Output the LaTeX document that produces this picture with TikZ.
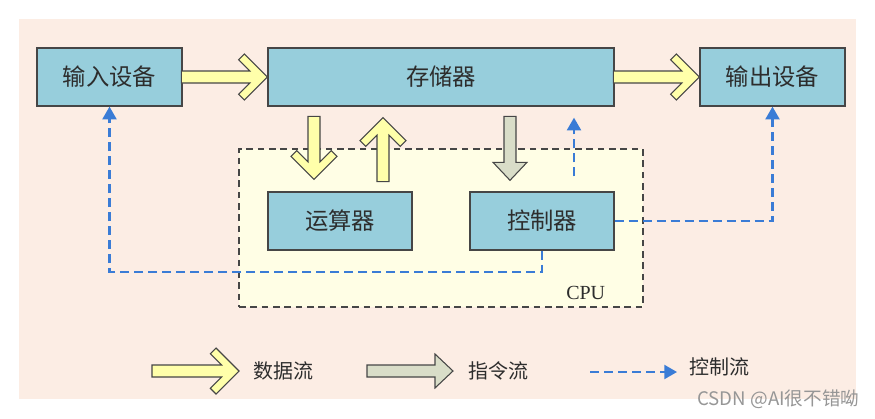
\documentclass[tikz,border=0pt]{standalone}
\usepackage{fontspec}
\newfontfamily\cjk{Noto Sans CJK SC}
\newfontfamily\cpufont{Liberation Serif}
\usetikzlibrary{arrows.meta,calc}

\definecolor{bgpeach}{RGB}{252,237,228}
\definecolor{boxblue}{RGB}{151,206,220}
\definecolor{cpuyellow}{RGB}{255,254,229}
\definecolor{datayellow}{RGB}{255,255,170}
\definecolor{instgreen}{RGB}{217,221,200}
\definecolor{ctrlblue}{RGB}{58,124,214}
\definecolor{edgegray}{RGB}{70,70,70}
\definecolor{textgray}{RGB}{45,45,45}

\tikzset{every picture/.style={line width=0.75pt}}
\tikzset{
  unit/.style={draw=edgegray, fill=boxblue, line width=1pt, minimum height=43.5pt, inner sep=0pt, text=textgray, font=\cjk\fontsize{17.5}{17.5}\selectfont},
  legend/.style={anchor=west, inner sep=0pt, text=textgray, font=\cjk\fontsize{15}{15}\selectfont},
  datafill/.style={draw=edgegray, fill=datayellow, line width=0.8pt, line join=miter},
  instfill/.style={draw=edgegray, fill=instgreen, line width=0.8pt, line join=miter},
  ctrl/.style={draw=ctrlblue, line width=1.6pt, dash pattern=on 7pt off 3.5pt, -{Triangle[length=9.5pt,width=10.5pt]}},
  %fat arrow with open head, tip at the pic origin, #1 = length
  pics/datarrow/.style={code={
    \draw[datafill] (0,0) -- (-23,-23) -- (-28.7,-17.3) -- (-17.4,-6) -- (-#1,-6) -- (-#1,6) -- (-17.4,6) -- (-28.7,17.3) -- (-23,23) -- cycle ;
  }},
  %block arrow, tip at the pic origin, #1 = length
  pics/instarrow/.style={code={
    \draw[instfill] (0,0) -- (-18,-17) -- (-18,-6) -- (-#1,-6) -- (-#1,6) -- (-18,6) -- (-18,17) -- cycle ;
  }},
}

\begin{document}
\begin{tikzpicture}[x=0.75pt,y=0.75pt,yscale=-1,xscale=1]
\useasboundingbox (0,0) rectangle (875,418);

%Shape: Rectangle (background)
\fill [bgpeach] (19,19) rectangle (856,399);

%Shape: Rectangle (CPU)
\node (cpu) [draw=edgegray, fill=cpuyellow, line width=1pt, dash pattern=on 5pt off 3.5pt, minimum width=303pt, minimum height=118.5pt, inner sep=0pt] at (441,228) {};
\node (cpulbl) [anchor=south east, inner sep=0pt, text=textgray, font=\cpufont\fontsize{15}{15}\selectfont] at ($(cpu.south east)+(-38,-7)$) {CPU};

% Units
\node (in) [unit, minimum width=108.75pt] at (109.5,77) {输入设备};
\node (mem) [unit, minimum width=259.5pt] at (441,77) {存储器};
\node (out) [unit, minimum width=108.75pt] at (772.5,77) {输出设备};
\node (alu) [unit, minimum width=108pt] at (340,221) {运算器};
\node (ctl) [unit, minimum width=108pt] at (542,221) {控制器};

% Data flow
\pic at (mem.west) {datarrow=86};
\pic at (out.west) {datarrow=86};
\pic [rotate=-90] at ($(alu.north)+(-26,-12)$) {datarrow=63};
\pic [rotate=90] at ($(mem.south)+(-58,11)$) {datarrow=64};

% Instruction flow
\pic [rotate=-90] at ($(ctl.north)+(-32,-11)$) {instarrow=64};

% Control flow
\draw [ctrl] (ctl.south) -- ++(0,21) -| (in.south);
\draw [ctrl] (ctl.east) -| (out.south);
\coordinate (cup) at ($(ctl.north)+(32,-15)$);
\draw [ctrl] (cup) -- ($(cup |- mem.south)+(0,11)$);

% Legend
\node (l1) [legend] at (253,371) {数据流};
\node (l2) [legend] at (468,371) {指令流};
\node (l3) [legend] at (689,367) {控制流};
\pic at ($(l1.west)+(-14,0)$) {datarrow=87};
\pic at ($(l2.west)+(-15,0)$) {instarrow=86};
\coordinate (c3) at ($(l3.west)+(-99,5)$);
\draw [ctrl] (c3) -- ++(87,0);

% Text Node
\node (mark) [anchor=east, inner sep=0pt, text={rgb,255:red,150;green,150;blue,150}, font=\cjk\fontsize{14}{14}\selectfont] at (860,399) {CSDN @AI很不错呦};

\end{tikzpicture}
\end{document}
